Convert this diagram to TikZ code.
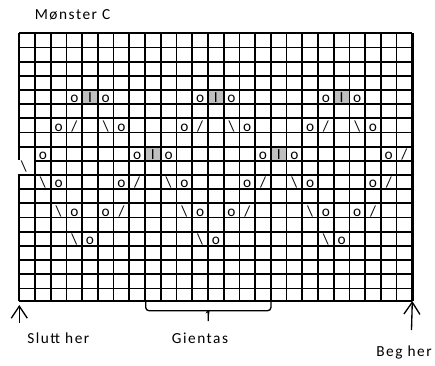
\documentclass[tikz,border=0pt]{standalone}
\usepackage{fontspec}
\setmainfont{Carlito}
\newfontfamily\chartfont{Carlito}[LetterSpace=10]
\usetikzlibrary{arrows.meta}
\definecolor{cellgray}{RGB}{191,191,191}
\newcommand{\bs}{\textbackslash}
\newcommand{\fwd}{/}
\tikzset{
  sym/.style={anchor=base, inner sep=0pt, font=\fontsize{11.5}{13}\selectfont},
  lbl/.style={anchor=base, inner sep=0pt, font=\chartfont\fontsize{11.5}{13}\selectfont},
  uparrow/.style={-{Straight Barb[length=9pt,width=12pt]}, line width=1pt}
}

\begin{document}
\begin{tikzpicture}[x=0.75pt, y=-0.75pt, line width=1.3pt]
\useasboundingbox (0,0) rectangle (435,365);

\coordinate (NW) at (19.3,33.3);
\coordinate (NE) at (412.3,33.3);
\coordinate (SW) at (19.3,301);
\coordinate (SE) at (412.3,301);

\foreach \c/\r in {5/5,13/5,21/5,9/9,17/9}
  \fill[cellgray] ({19.3+(\c-1)*15.72},{33.3+(\r-1)*14.17}) rectangle ++(15.72,14.17);

\foreach \i in {0,...,25}
  \draw ({19.3+\i*15.72},33.3) -- ({19.3+\i*15.72},301);
\foreach \j in {0,...,18}
  \draw (19.3,{33.3+\j*14.17}) -- (412.3,{33.3+\j*14.17});
\draw (SW) -- (SE);
\draw[line width=2pt] (NE) -- (SE);

\foreach \c/\r/\s in {4/5/o,5/5/I,6/5/o,12/5/o,13/5/I,14/5/o,20/5/o,21/5/I,22/5/o,
    3/7/o,4/7/\fwd,6/7/\bs,7/7/o,11/7/o,12/7/\fwd,14/7/\bs,15/7/o,19/7/o,20/7/\fwd,22/7/\bs,23/7/o,
    2/9/o,8/9/o,9/9/I,10/9/o,16/9/o,17/9/I,18/9/o,24/9/o,25/9/\fwd,
    2/11/\bs,3/11/o,7/11/o,8/11/\fwd,10/11/\bs,11/11/o,15/11/o,16/11/\fwd,18/11/\bs,19/11/o,23/11/o,24/11/\fwd,
    3/13/\bs,4/13/o,6/13/o,7/13/\fwd,11/13/\bs,12/13/o,14/13/o,15/13/\fwd,19/13/\bs,20/13/o,22/13/o,23/13/\fwd,
    4/15/\bs,5/15/o,12/15/\bs,13/15/o,20/15/\bs,21/15/o}
  \node[sym] (s\c-\r) at ({19.3+(\c-0.5)*15.72},{33.3+\r*14.17-1.2}) {\s};
\node[sym, anchor=center, fill=white, minimum width=11.9pt, minimum height=10.9pt]
  (s1-10) at (26.25,166.9) {\bs\hspace*{3.75pt}};

\node[lbl] (title) at (72.5,19) {Mønster C};
\node[lbl] (slutt) at (58.3,343) {Slutt her};
\node[lbl] (gientas) at (200,343.3) {Gientas};
\node[lbl] (beg) at (404,356.7) {Beg her};

\coordinate (repL) at (145.7,301);
\coordinate (repR) at (271,301);
\coordinate (repM) at (208.3,321);
\draw[line width=1pt, rounded corners=2.5pt] (repL) |- (205,310.7) to[out=0,in=90] (208.3,314.5) -- (repM);
\draw[line width=1pt, rounded corners=2.5pt] (repR) |- (211.6,310.7) to[out=180,in=90] (208.3,314.5);

\coordinate (sluttfoot) at (19.3,322.5);
\coordinate (slutttip) at (19.3,305);
\coordinate (begfoot) at (411.5,330);
\draw[uparrow] (sluttfoot) -- (slutttip);
\draw[uparrow] (begfoot) -- (SE);
\end{tikzpicture}
\end{document}
